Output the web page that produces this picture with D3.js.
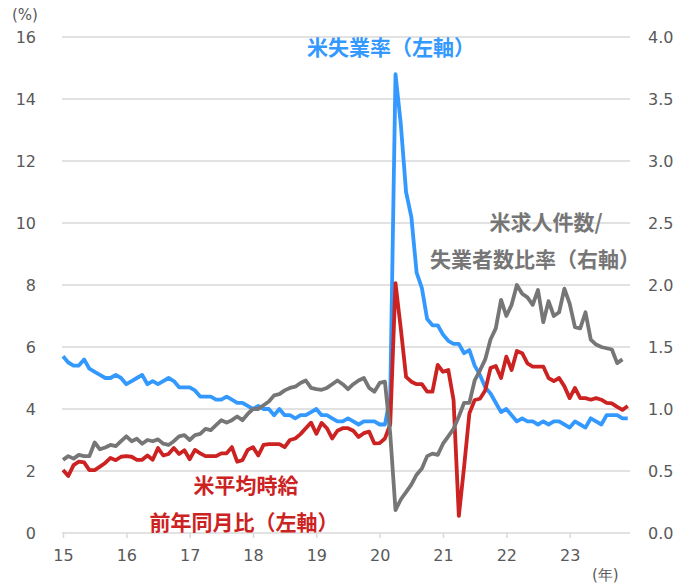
<!DOCTYPE html>
<html>
<head>
<meta charset="utf-8">
<script src="https://cdn.jsdelivr.net/npm/d3@7"></script>
<style>
    body { margin: 0; background: #fff; }
    text { font-family: "DejaVu Sans", Verdana, sans-serif; }
    .lbl { font-family: "Noto Sans CJK JP", sans-serif; font-weight: bold; font-size: 21px; }
</style>
</head>
<body>
<script>
// Monthly data, Jan 2015 onward
var yearLabels = ["15", "16", "17", "18", "19", "20", "21", "22", "23"];
var leftTicks = [0, 2, 4, 6, 8, 10, 12, 14, 16];
var rightTicks = [0, 0.5, 1.0, 1.5, 2.0, 2.5, 3.0, 3.5, 4.0];

// US unemployment rate (%), left axis
var unemployment = [
    5.7, 5.5, 5.4, 5.4, 5.6, 5.3, 5.2, 5.1, 5.0, 5.0, 5.1, 5.0,
    4.8, 4.9, 5.0, 5.1, 4.8, 4.9, 4.8, 4.9, 5.0, 4.9, 4.7, 4.7,
    4.7, 4.6, 4.4, 4.4, 4.4, 4.3, 4.3, 4.4, 4.3, 4.2, 4.2, 4.1,
    4.0, 4.1, 4.0, 4.0, 3.8, 4.0, 3.8, 3.8, 3.7, 3.8, 3.8, 3.9,
    4.0, 3.8, 3.8, 3.7, 3.6, 3.6, 3.7, 3.6, 3.5, 3.6, 3.6, 3.6,
    3.5, 3.5, 4.4, 14.8, 13.2, 11.0, 10.2, 8.4, 7.9, 6.9, 6.7, 6.7,
    6.4, 6.2, 6.1, 6.1, 5.8, 5.9, 5.4, 5.1, 4.7, 4.5, 4.2, 3.9,
    4.0, 3.8, 3.6, 3.7, 3.6, 3.6, 3.5, 3.6, 3.5, 3.6, 3.6, 3.5,
    3.4, 3.6, 3.5, 3.4, 3.7, 3.6, 3.5, 3.8, 3.8, 3.8, 3.7, 3.7
];

// Average hourly earnings, y/y (%), left axis
var wages = [
    2.03, 1.84, 2.19, 2.3, 2.28, 2.03, 2.03, 2.14, 2.26, 2.42, 2.35, 2.46,
    2.48, 2.46, 2.36, 2.36, 2.5, 2.36, 2.74, 2.5, 2.55, 2.74, 2.55, 2.67,
    2.38, 2.68, 2.57, 2.48, 2.48, 2.48, 2.57, 2.57, 2.77, 2.3, 2.35, 2.68,
    2.77, 2.5, 2.84, 2.87, 2.87, 2.87, 2.77, 3.0, 3.05, 3.19, 3.38, 3.56,
    3.2, 3.55, 3.38, 3.05, 3.3, 3.38, 3.38, 3.3, 3.1, 3.22, 3.27, 2.89,
    2.9, 3.05, 3.5, 8.06, 6.6, 5.04, 4.88, 4.8, 4.8, 4.56, 4.56, 5.42,
    5.2, 5.26, 4.29, 0.55, 2.14, 3.86, 4.29, 4.33, 4.6, 5.32, 5.39, 5.0,
    5.69, 5.26, 5.87, 5.8, 5.47, 5.37, 5.37, 5.37, 5.0, 4.9, 5.0, 4.73,
    4.35, 4.68, 4.35, 4.35, 4.3, 4.35, 4.3, 4.2, 4.18, 4.07, 3.97, 4.1
];

// Job openings / unemployed ratio, right axis (one month shorter)
var openingsRatio = [
    0.59, 0.62, 0.6, 0.63, 0.62, 0.62, 0.73, 0.675, 0.69, 0.71, 0.70, 0.74,
    0.78, 0.74, 0.76, 0.72, 0.75, 0.74, 0.755, 0.72, 0.71, 0.74, 0.78, 0.79,
    0.75, 0.79, 0.80, 0.84, 0.83, 0.87, 0.91, 0.89, 0.91, 0.94, 0.91, 0.96,
    1.0, 1.0, 1.03, 1.06, 1.11, 1.12, 1.15, 1.17, 1.18, 1.21, 1.23, 1.17,
    1.16, 1.155, 1.17, 1.2, 1.23, 1.2, 1.16, 1.2, 1.23, 1.25, 1.17, 1.14,
    1.21, 1.22, 0.8, 0.185, 0.27, 0.33, 0.39, 0.47, 0.52, 0.62, 0.64, 0.63,
    0.72, 0.78, 0.84, 0.94, 1.05, 1.05, 1.23, 1.31, 1.40, 1.56, 1.65, 1.88,
    1.75, 1.84, 2.0, 1.93, 1.9, 1.84, 1.96, 1.7, 1.87, 1.75, 1.78, 1.97,
    1.85, 1.66, 1.65, 1.78, 1.56, 1.52, 1.5, 1.49, 1.48, 1.37, 1.4
];

var w = 691;
var h = 586;

var svg = d3.select("body")
    .append("svg")
    .attr("width", w)
    .attr("height", h);

//Scales
var xScale = d3.scaleLinear()
    .domain([0, 108])
    .range([63, 633]);
var yLeft = d3.scaleLinear()
    .domain([0, 16])
    .range([533, 37]);
var yRight = d3.scaleLinear()
    .domain([0, 4])
    .range([533, 37]);

//Gridlines
svg.append("g")
    .selectAll("line")
    .data(leftTicks)
    .enter()
    .append("line")
    .attr("x1", 62)
    .attr("x2", 630)
    .attr("y1", function (d) { return yLeft(d); })
    .attr("y2", function (d) { return yLeft(d); })
    .attr("stroke", "#d9d9d9")
    .attr("stroke-width", 1.5);

//Left axis
var leftAxis = d3.axisLeft(yLeft)
    .tickValues(leftTicks)
    .tickSize(0)
    .tickPadding(0);
var gl = svg.append("g")
    .attr("transform", "translate(36,0)")
    .call(leftAxis);

//Right axis
var rightAxis = d3.axisRight(yRight)
    .tickValues(rightTicks)
    .tickFormat(d3.format(".1f"))
    .tickSize(0)
    .tickPadding(0);
var gr = svg.append("g")
    .attr("transform", "translate(648,0)")
    .call(rightAxis);

//Bottom axis with year ticks
var xAxis = d3.axisBottom(xScale)
    .tickValues(yearLabels.map(function (d, i) { return i * 12; }))
    .tickFormat(function (d, i) { return yearLabels[i]; })
    .tickSize(5)
    .tickPadding(12);
var gx = svg.append("g")
    .attr("transform", "translate(0,533)")
    .call(xAxis);

[gl, gr, gx].forEach(function (g) {
    g.select(".domain").remove();
    g.selectAll("text")
        .attr("fill", "#595959")
        .style("font-size", "16px");
});
gx.selectAll("line").attr("stroke", "#d9d9d9").attr("stroke-width", 1.5);

//Unit labels
svg.append("text")
    .attr("x", 12).attr("y", 20)
    .attr("fill", "#595959")
    .style("font-size", "15px")
    .text("(%)");
svg.append("text")
    .attr("x", 592).attr("y", 580)
    .attr("fill", "#595959")
    .style("font-size", "15px")
    .text("(年)");

//Lines
var lineLeft = d3.line()
    .x(function (d, i) { return xScale(i); })
    .y(function (d) { return yLeft(d); });
var lineRight = d3.line()
    .x(function (d, i) { return xScale(i); })
    .y(function (d) { return yRight(d); });

svg.append("path")
    .datum(unemployment)
    .attr("d", lineLeft)
    .attr("fill", "none")
    .attr("stroke", "#3399ff")
    .attr("stroke-width", 3.8)
    .attr("stroke-linejoin", "round");
svg.append("path")
    .datum(wages)
    .attr("d", lineLeft)
    .attr("fill", "none")
    .attr("stroke", "#cc2222")
    .attr("stroke-width", 3.8)
    .attr("stroke-linejoin", "round");
svg.append("path")
    .datum(openingsRatio)
    .attr("d", lineRight)
    .attr("fill", "none")
    .attr("stroke", "#767676")
    .attr("stroke-width", 3.8)
    .attr("stroke-linejoin", "round");

//Series labels
var labels = [
    { t: "米失業率（左軸）", x: 391, y: 55, c: "#3399ff" },
    { t: "米求人件数/", x: 546, y: 230, c: "#767676" },
    { t: "失業者数比率（右軸）", x: 535, y: 267, c: "#767676" },
    { t: "米平均時給", x: 246, y: 493, c: "#cc2222" },
    { t: "前年同月比（左軸）", x: 244, y: 530, c: "#cc2222" }
];
svg.selectAll("text.lbl")
    .data(labels)
    .enter()
    .append("text")
    .attr("class", "lbl")
    .attr("x", function (d) { return d.x; })
    .attr("y", function (d) { return d.y; })
    .attr("text-anchor", "middle")
    .attr("fill", function (d) { return d.c; })
    .text(function (d) { return d.t; });
</script>
</body>
</html>
